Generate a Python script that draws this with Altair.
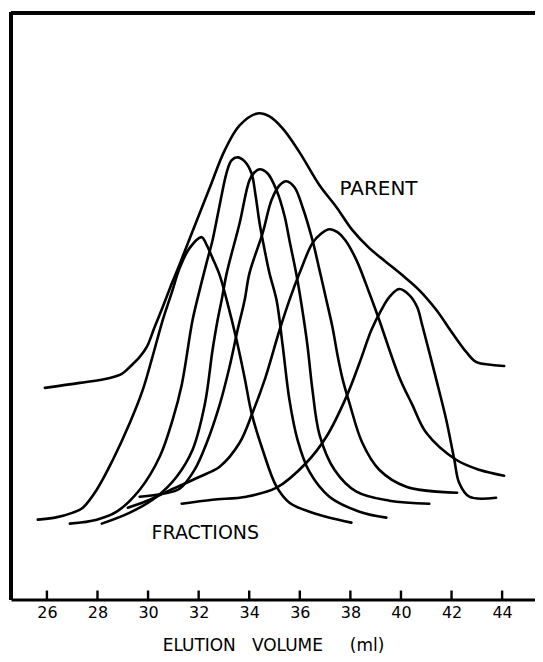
import altair as alt
import pandas as pd

# ---- data (x: elution volume ml, y: detector response, arbitrary units) ----
parent_x = [25.92, 27.30, 28.49, 28.96, 29.28, 29.67, 29.95, 30.26, 30.58, 30.93, 31.25, 31.76, 32.43, 33.03,
            33.62, 34.33, 34.80, 35.32, 35.99, 36.78, 37.45, 38.08, 38.75, 39.42, 40.05, 40.72, 41.40, 42.03,
            42.58, 42.97, 43.61, 44.08]
parent_y = [212, 217, 222, 226, 233, 243, 253, 273, 293, 316, 336, 369, 412, 450,
            475, 487, 484, 472, 448, 415, 393, 370, 352, 338, 325, 310, 290, 267,
            248, 238, 235, 234]

f1_x = [25.64, 26.32, 27.03, 27.42, 27.97, 28.61, 29.28, 29.79, 30.14, 30.58, 30.93, 31.25, 31.64, 32.12,
        32.32, 32.55, 32.83, 33.11, 33.50, 33.82, 34.09, 34.53, 35.08, 35.59, 36.50, 38.04]
f1_y = [80, 82, 87, 92, 110, 140, 177, 210, 240, 280, 307, 332, 352, 363,
        355, 342, 325, 300, 260, 222, 187, 150, 113, 97, 87, 77]

f2_x = [26.91, 27.97, 28.76, 29.67, 30.46, 30.97, 31.33, 31.76, 32.04, 32.32, 32.55, 32.83, 33.11, 33.30,
        33.54, 33.82, 34.09, 34.25, 34.41, 34.61, 34.80, 35.08, 35.32, 35.59, 35.91, 36.38, 37.17, 38.36, 39.42]
f2_y = [76, 80, 88, 110, 143, 180, 215, 280, 310, 338, 360, 395, 428, 440,
        443, 439, 427, 405, 377, 350, 327, 300, 255, 200, 160, 128, 103, 88, 82]

f3_x = [28.17, 29.28, 30.34, 31.13, 31.76, 32.24, 32.55, 32.75, 32.91, 33.11, 33.62, 34.01, 34.21, 34.41,
        34.72, 35.08, 35.39, 35.59, 35.87, 36.07, 36.30, 36.50, 36.78, 37.37, 38.24, 39.54, 41.12]
f3_y = [76, 87, 103, 123, 150, 195, 250, 280, 300, 327, 377, 420, 428, 431,
        427, 410, 385, 360, 325, 295, 255, 210, 165, 130, 108, 99, 96]

f4_x = [29.67, 30.58, 31.25, 31.84, 32.32, 32.83, 33.22, 33.54, 33.82, 34.01, 34.53, 34.88, 35.20, 35.47,
        35.79, 36.11, 36.50, 36.78, 37.05, 37.29, 37.49, 37.70, 37.96, 38.47, 39.14, 40.21, 42.22]
f4_y = [103, 106, 111, 130, 157, 195, 233, 270, 300, 327, 367, 400, 415, 419,
        413, 393, 360, 330, 300, 273, 245, 220, 197, 157, 130, 113, 107]

f5_x = [29.20, 30.07, 30.74, 32.04, 32.83, 33.62, 34.13, 34.61, 35.20, 35.59, 35.99, 36.50, 36.86, 37.17,
        37.49, 37.80, 38.24, 38.75, 39.14, 39.93, 40.45, 41.00, 42.18, 43.09, 44.08]
f5_y = [92, 100, 108, 123, 133, 157, 187, 220, 270, 300, 327, 357, 367, 371,
        368, 360, 340, 307, 280, 223, 195, 167, 140, 130, 124]

f6_x = [31.33, 32.55, 33.89, 35.08, 36.26, 37.05, 37.84, 38.36, 38.83, 39.22, 39.54, 39.93, 40.33, 40.64,
        40.84, 41.40, 41.79, 42.11, 42.30, 42.70, 43.76]
f6_y = [96, 100, 103, 112, 137, 163, 203, 237, 270, 290, 303, 311, 305, 293,
        275, 220, 180, 140, 117, 103, 102]

tick_values = [26, 28, 30, 32, 34, 36, 38, 40, 42, 44]

labels_text = ["PARENT", "FRACTIONS"]
labels_x = [37.57, 30.14]
labels_y = [405, 61]
labels_size = [20, 19]

X_DOMAIN = [24.58, 45.30]
Y_DOMAIN = [0, 588]
W, H = 525, 588

# ---- build tables ----
series = {
    "parent": (parent_x, parent_y),
    "f1": (f1_x, f1_y),
    "f2": (f2_x, f2_y),
    "f3": (f3_x, f3_y),
    "f4": (f4_x, f4_y),
    "f5": (f5_x, f5_y),
    "f6": (f6_x, f6_y),
}
rows = []
for name, (xs, ys) in series.items():
    for i, (xv, yv) in enumerate(zip(xs, ys)):
        rows.append({"series": name, "x": xv, "y": yv, "i": i})
curves = pd.DataFrame(rows)

ticks = pd.DataFrame({"x": tick_values, "y0": [0] * len(tick_values), "y1": [9] * len(tick_values)})
labels = pd.DataFrame({"text": labels_text, "x": labels_x, "y": labels_y, "size": labels_size})

xscale = alt.Scale(domain=X_DOMAIN, nice=False, zero=False)
yscale = alt.Scale(domain=Y_DOMAIN, nice=False, zero=False)

FONT = "DejaVu Sans"
NB = "\u00a0"

lines = alt.Chart(curves).mark_line(
    color="black", strokeWidth=2.6, interpolate="catmull-rom", strokeCap="round", strokeJoin="round"
).encode(
    x=alt.X("x:Q", scale=xscale,
            axis=alt.Axis(values=tick_values, ticks=False, grid=False, domain=True,
                          domainColor="black", domainWidth=3.2, labelFont=FONT,
                          labelFontSize=16, labelColor="black", labelPadding=5,
                          title="ELUTION" + NB * 3 + "VOLUME" + NB * 5 + "(ml)",
                          titleFont=FONT, titleFontSize=17, titleFontWeight="normal",
                          titleColor="black", titlePadding=17)),
    y=alt.Y("y:Q", scale=yscale, axis=None),
    detail="series:N",
    order="i:Q",
)

tick_rules = alt.Chart(ticks).mark_rule(color="black", strokeWidth=2.4).encode(
    x=alt.X("x:Q", scale=xscale),
    y=alt.Y("y0:Q", scale=yscale),
    y2="y1:Q",
)

texts = alt.Chart(labels).mark_text(
    font=FONT, align="left", baseline="alphabetic", color="black"
).encode(
    x=alt.X("x:Q", scale=xscale),
    y=alt.Y("y:Q", scale=yscale),
    text="text:N",
    size=alt.Size("size:Q", scale=None, legend=None),
)

left_border = alt.Chart(ticks).mark_rule(color="black", strokeWidth=3.2).encode(
    x=alt.value(0), y=alt.value(0), y2=alt.value(H)
)
top_border = alt.Chart(ticks).mark_rule(color="black", strokeWidth=3.2).encode(
    x=alt.value(0), x2=alt.value(W), y=alt.value(0)
)

chart = alt.layer(lines, tick_rules, texts, left_border, top_border).properties(
    width=W, height=H,
    autosize=alt.AutoSizeParams(type="none"),
    padding={"left": 3, "top": 4, "right": 0, "bottom": 54},
).configure_view(stroke=None).configure(background="white")

chart.save("out.html", embed_options={"renderer": "svg", "actions": False})
